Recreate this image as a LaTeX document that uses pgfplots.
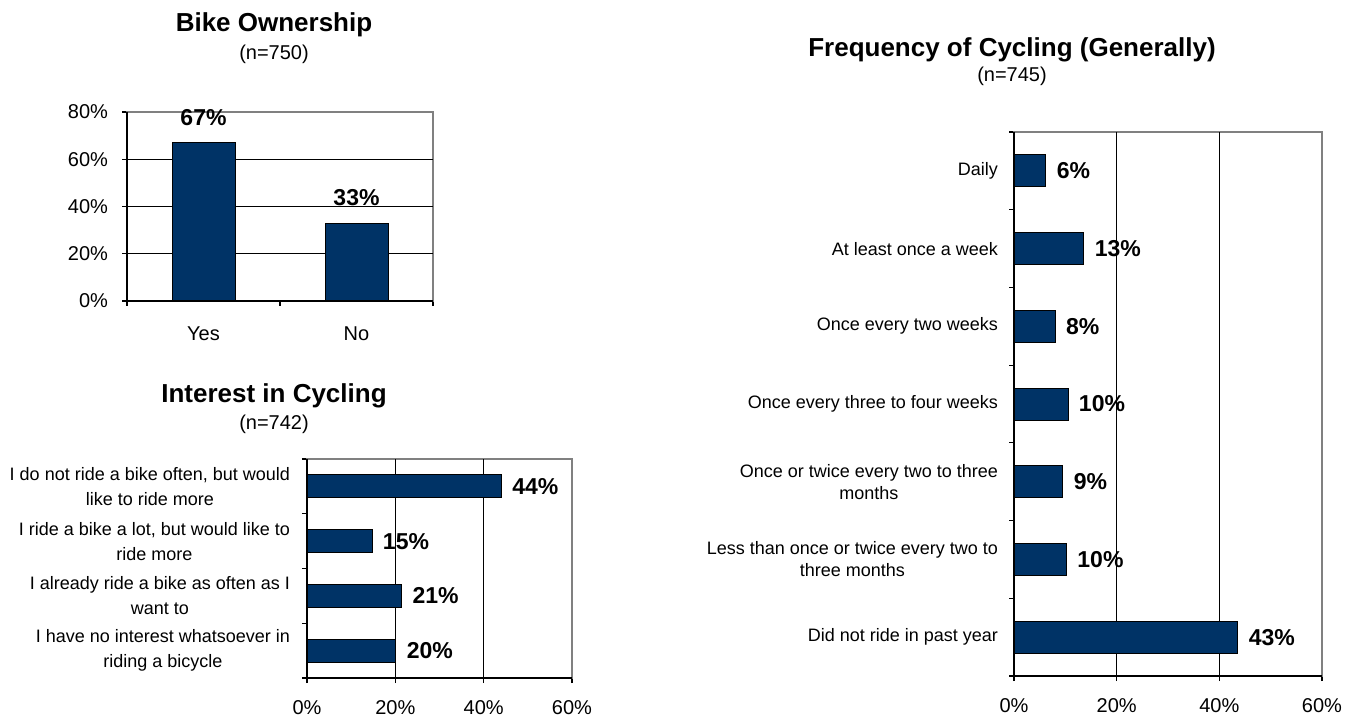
\documentclass[border=0pt]{standalone}
\usepackage{fontspec}
\setmainfont{Liberation Sans}
\usepackage{pgfplots}
\pgfplotsset{compat=1.18}
\definecolor{navy}{RGB}{0,51,102}
\definecolor{bordergray}{RGB}{128,128,128}

\pgfplotsset{
  mybase/.style={
    scale only axis,
    axis line style={bordergray, line width=0.6pt},
    tick style={black, line width=0.6pt},
    tick align=outside,
    xtick pos=bottom, ytick pos=left,
    major tick length=2.5pt,
    minor tick length=2.5pt,
    ticklabel style={font=\fontsize{10}{12}\selectfont},
    /pgf/number format/assume math mode=true,
    grid style={black, line width=0.5pt},
    clip=false,
    point meta=explicit symbolic,
    nodes near coords,
    nodes near coords style={font=\bfseries\fontsize{11.5}{13}\selectfont},
  },
}

\begin{document}
\begin{tikzpicture}[x=1pt,y=1pt]
\path[use as bounding box] (0pt,0pt) rectangle (680pt,358.5pt);

% ---------------- Bike Ownership ----------------
\node[anchor=base, font=\bfseries\fontsize{13}{15}\selectfont] at (137pt,342.5pt) {Bike Ownership};
\node[anchor=base, font=\fontsize{10}{12}\selectfont] at (137pt,328.5pt) {(n=750)};
\begin{axis}[mybase, at={(63.5pt,208pt)}, anchor=south west, width=153pt, height=94.5pt,
  ybar, bar width=31.5pt,
  xmin=0.5, xmax=2.5, ymin=0, ymax=80,
  xtick={1,2}, xticklabels={Yes,No}, major x tick style={draw=none},
  minor xtick={0.5,1.5,2.5},
  ytick={0,20,40,60,80}, yticklabel={\pgfmathprintnumber{\tick}\%},
  extra y ticks={20,40,60}, extra y tick labels={},
  extra y tick style={grid=major, major tick length=0pt},
  xticklabel style={yshift=-7pt},
  yticklabel style={xshift=-3.5pt},
  nodes near coords style={anchor=south, yshift=5pt},
]
\addplot[fill=navy, draw=black, line width=0.4pt] coordinates {(1,67) [67\%] (2,33) [33\%]};
\draw[black, line width=0.6pt] (rel axis cs:0,1) -- (rel axis cs:0,0) -- (rel axis cs:1,0);
\end{axis}

% ---------------- Interest in Cycling ----------------
\node[anchor=base, font=\bfseries\fontsize{13}{15}\selectfont] at (137pt,157pt) {Interest in Cycling};
\node[anchor=base, font=\fontsize{10}{12}\selectfont] at (137pt,143.5pt) {(n=742)};
\begin{axis}[mybase, at={(153.5pt,19.5pt)}, anchor=south west, width=132.5pt, height=109.5pt,
  xbar, bar width=11.5pt, y dir=reverse,
  xmin=0, xmax=60, ymin=0.5, ymax=4.5,
  xtick={0,20,40,60}, xticklabel={\pgfmathprintnumber{\tick}\%},
  extra x ticks={20,40}, extra x tick labels={},
  extra x tick style={grid=major, major tick length=0pt},
  ytick={1,2,3,4},
  yticklabels={{I do not ride a bike often, but would\\like to ride more},
               {I ride a bike a lot, but would like to\\ride more},
               {I already ride a bike as often as I\\want to},
               {I have no interest whatsoever in\\riding a bicycle}},
  major y tick style={draw=none},
  minor ytick={0.5,1.5,2.5,3.5,4.5},
  yticklabel style={align=center, font=\fontsize{9}{12.5}\selectfont, xshift=-2.5pt},
  xticklabel style={yshift=-5pt},
  nodes near coords style={anchor=west, xshift=2pt},
]
\addplot[fill=navy, draw=black, line width=0.4pt] coordinates {(44,1) [44\%] (14.7,2) [15\%] (21.4,3) [21\%] (20.1,4) [20\%]};
\draw[black, line width=0.6pt] (rel axis cs:0,1) -- (rel axis cs:0,0) -- (rel axis cs:1,0);
\end{axis}

% ---------------- Frequency of Cycling ----------------
\node[anchor=base, font=\bfseries\fontsize{13}{15}\selectfont] at (506pt,330pt) {Frequency of Cycling (Generally)};
\node[anchor=base, font=\fontsize{10}{12}\selectfont] at (506pt,317.5pt) {(n=745)};
\begin{axis}[mybase, at={(507pt,20.5pt)}, anchor=south west, width=154pt, height=272pt,
  xbar, bar width=16pt, y dir=reverse,
  xmin=0, xmax=60, ymin=0.5, ymax=7.5,
  xtick={0,20,40,60}, xticklabel={\pgfmathprintnumber{\tick}\%},
  extra x ticks={20,40}, extra x tick labels={},
  extra x tick style={grid=major, major tick length=0pt},
  ytick={1,2,3,4,5,6,7},
  yticklabels={Daily, At least once a week, Once every two weeks,
               Once every three to four weeks,
               {Once or twice every two to three\\months},
               {Less than once or twice every two to\\three months},
               Did not ride in past year},
  major y tick style={draw=none},
  minor ytick={0.5,1.5,...,7.5},
  yticklabel style={align=center, font=\fontsize{9}{11}\selectfont, xshift=-2pt},
  xticklabel style={yshift=-5pt},
  nodes near coords style={anchor=west, xshift=2pt},
]
\addplot[fill=navy, draw=black, line width=0.4pt] coordinates {
  (6.2,1) [6\%] (13.6,2) [13\%] (8.0,3) [8\%] (10.5,4) [10\%]
  (9.5,5) [9\%] (10.2,6) [10\%] (43.6,7) [43\%]};
\draw[black, line width=0.6pt] (rel axis cs:0,1) -- (rel axis cs:0,0) -- (rel axis cs:1,0);
\end{axis}
\end{tikzpicture}
\end{document}
